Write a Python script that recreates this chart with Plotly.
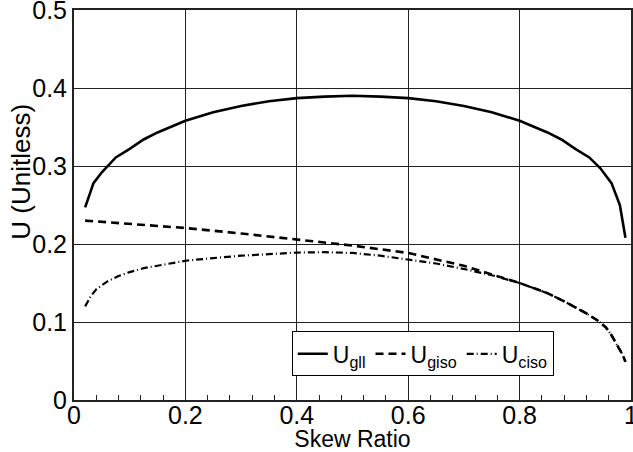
import plotly.graph_objects as go

# ---- data ----
x_gll = [0.02, 0.035, 0.05, 0.075, 0.1, 0.125, 0.15, 0.2, 0.25, 0.3, 0.35, 0.4, 0.45, 0.5,
         0.55, 0.6, 0.65, 0.7, 0.75, 0.8, 0.85, 0.875, 0.9, 0.925, 0.945, 0.965, 0.98, 0.99]
u_gll = [0.247, 0.278, 0.292, 0.311, 0.322, 0.334, 0.343, 0.358, 0.369, 0.377, 0.383, 0.387, 0.389, 0.390,
         0.389, 0.387, 0.383, 0.377, 0.369, 0.358, 0.343, 0.334, 0.322, 0.311, 0.297, 0.278, 0.250, 0.208]

x_giso = [0.02, 0.1, 0.2, 0.3, 0.4, 0.5, 0.6, 0.7, 0.8, 0.85, 0.88, 0.9, 0.92, 0.94,
          0.955, 0.965, 0.975, 0.985, 0.99]
u_giso = [0.230, 0.226, 0.2205, 0.2135, 0.2055, 0.198, 0.1885, 0.172, 0.150, 0.137, 0.1265, 0.119, 0.111, 0.102,
          0.093, 0.083, 0.070, 0.058, 0.049]

x_ciso = [0.02, 0.03, 0.04, 0.06, 0.08, 0.1, 0.125, 0.15, 0.2, 0.25, 0.3, 0.35, 0.4, 0.45, 0.5,
          0.55, 0.6, 0.65, 0.7, 0.75, 0.8, 0.85, 0.88, 0.9, 0.92, 0.94, 0.955, 0.965, 0.975, 0.985, 0.99]
u_ciso = [0.120, 0.133, 0.142, 0.152, 0.159, 0.164, 0.169, 0.172, 0.1785, 0.182, 0.185, 0.187, 0.189, 0.1895, 0.1885,
          0.185, 0.180, 0.175, 0.168, 0.160, 0.150, 0.137, 0.1265, 0.119, 0.111, 0.102, 0.093, 0.083, 0.070, 0.058, 0.049]

names = ["U<sub>gll</sub>", "U<sub>giso</sub>", "U<sub>ciso</sub>"]
x_ticks = [0, 0.2, 0.4, 0.6, 0.8, 1]
x_tick_labels = ["0", "0.2", "0.4", "0.6", "0.8", "1"]
y_ticks = [0, 0.1, 0.2, 0.3, 0.4, 0.5]
y_tick_labels = ["0", "0.1", "0.2", "0.3", "0.4", "0.5"]
x_title = "Skew Ratio"
y_title = "U (Unitless)"

FONT = "Liberation Sans, Arial, sans-serif"

fig = go.Figure()
fig.add_trace(go.Scatter(x=x_gll, y=u_gll, mode="lines", name=names[0],
                         line=dict(color="black", width=2.6)))
fig.add_trace(go.Scatter(x=x_giso, y=u_giso, mode="lines", name=names[1],
                         line=dict(color="black", width=2.6, dash="8px,5px")))
fig.add_trace(go.Scatter(x=x_ciso, y=u_ciso, mode="lines", name=names[2],
                         line=dict(color="black", width=2.2, dash="7px,3px,1px,3px")))

fig.add_annotation(text=y_title, xref="paper", yref="paper", x=-0.0955, y=0.585,
                   xanchor="center", yanchor="middle", textangle=-90, showarrow=False,
                   font=dict(size=26, family=FONT, color="black"))

fig.update_layout(
    width=633, height=452,
    margin=dict(l=74, r=2, t=10, b=52),
    paper_bgcolor="white", plot_bgcolor="white",
    font=dict(family=FONT, color="black", size=25),
    showlegend=True,
    legend=dict(
        orientation="h", x=0.391, y=0.176, xanchor="left", yanchor="top",
        bgcolor="white", bordercolor="black", borderwidth=1,
        font=dict(size=23, family=FONT), itemwidth=30, tracegroupgap=0,
    ),
    xaxis=dict(
        range=[0, 1], tickvals=x_ticks, ticktext=x_tick_labels,
        showgrid=True, gridcolor="#222", gridwidth=1,
        showline=True, linecolor="#222", linewidth=2, mirror=True,
        ticks="inside", ticklen=5, tickcolor="#222",
        minor=dict(dtick=0.04, ticks="inside", ticklen=5, tickcolor="#222", showgrid=False),
        zeroline=False, ticklabeloverflow="allow", ticklabelstandoff=-8, automargin=False,
        title=dict(text=x_title, standoff=4, font=dict(size=23)),
    ),
    yaxis=dict(
        range=[0, 0.5], tickvals=y_ticks, ticktext=y_tick_labels,
        showgrid=True, gridcolor="#222", gridwidth=1,
        showline=True, linecolor="#222", linewidth=2, mirror=True,
        ticks="", zeroline=False, ticklabeloverflow="allow", automargin=False,
    ),
)

fig.write_html("out.html")
